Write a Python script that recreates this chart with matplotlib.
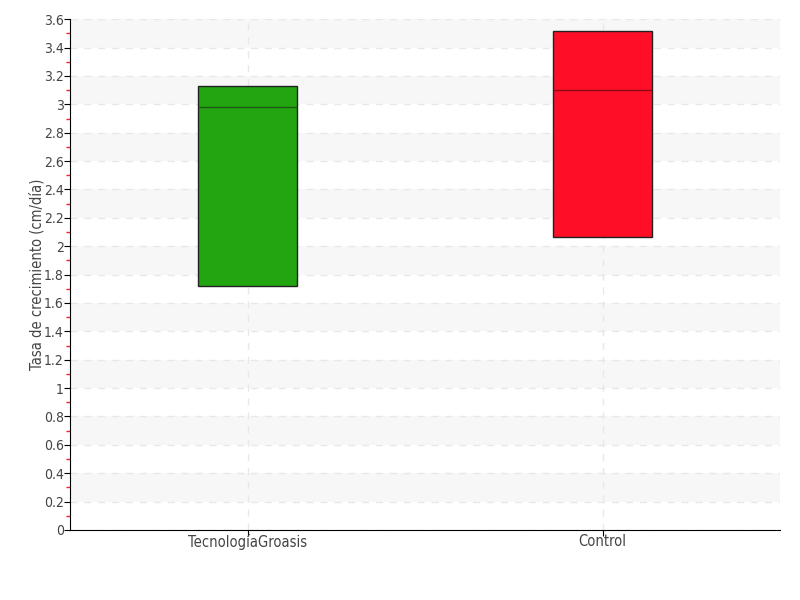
import numpy as np
import matplotlib
matplotlib.use("Agg")
import matplotlib.pyplot as plt
from matplotlib.ticker import MultipleLocator, FuncFormatter

plt.rcParams['font.family'] = ['DejaVu Sans']
plt.rcParams['font.stretch'] = 'condensed'

# data
categorias = ["TecnologíaGroasis", "Control"]
q1 = [1.72, 2.065]
mediana = [2.98, 3.10]
q3 = [3.13, 3.52]
colores = ["#22a511", "#ff0f27"]
bordes = ["#1a5a12", "#8a0a16"]

fig = plt.figure(figsize=(8, 6), dpi=100)
ax = fig.add_axes([0.0875, 0.1167, 0.8875, 0.8513])

# alternate light bands
for y0 in np.arange(0.2, 3.6, 0.4):
    ax.axhspan(y0, y0 + 0.2, color="#f7f7f7", zorder=0, lw=0)

stats = []
for i in range(len(categorias)):
    stats.append(dict(label=categorias[i], q1=q1[i], med=mediana[i], q3=q3[i],
                      whislo=q1[i], whishi=q3[i], fliers=[]))

bp = ax.bxp(stats, positions=range(len(categorias)), widths=0.28, patch_artist=True,
            showcaps=False, showfliers=False)
for i, box in enumerate(bp['boxes']):
    box.set_facecolor(colores[i])
    box.set_edgecolor("#222222")
    box.set_linewidth(1)
    box.set_zorder(3)
for i, med in enumerate(bp['medians']):
    med.set_color(bordes[i])
    med.set_linewidth(1)
    med.set_zorder(4)
for w in bp['whiskers']:
    w.set_visible(False)

ax.set_xlim(-0.5, 1.5)
ax.set_ylim(0, 3.6)
ax.yaxis.set_major_locator(MultipleLocator(0.2))
ax.yaxis.set_minor_locator(MultipleLocator(0.1))
ax.yaxis.set_major_formatter(FuncFormatter(lambda v, p: "%g" % round(v, 1)))
ax.tick_params(axis='y', which='major', length=4, color="#000000", labelsize=10, labelcolor="#444444", pad=0.5)
ax.tick_params(axis='y', which='minor', length=3, width=1, color="#ff2020")
ax.tick_params(axis='x', length=4, labelsize=10.5, labelcolor="#444444", pad=-1)

ax.grid(True, axis='both', which='major', linestyle=(0, (5, 5)), color="#e8e8e8", lw=1, zorder=1)
ax.set_axisbelow(True)

for s in ['top', 'right']:
    ax.spines[s].set_visible(False)
ax.spines['left'].set_color("#000000")
ax.spines['bottom'].set_color("#000000")

ax.set_ylabel("Tasa de crecimiento (cm/día)", fontsize=10.5, color="#444444")
ax.yaxis.set_label_coords(-0.036, 0.5)

fig.savefig("out.png", dpi=100)
